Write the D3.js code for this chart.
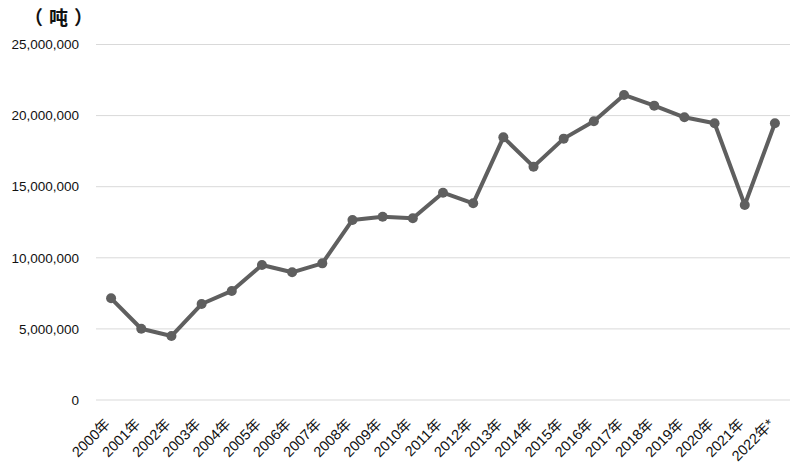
<!DOCTYPE html>
<html><head><meta charset="utf-8">
<script src="https://cdn.jsdelivr.net/npm/d3@7"></script>
<style>body{margin:0;background:#fff}svg{display:block}</style>
</head><body><div id="chart"></div>
<script>
const years = ["2000年","2001年","2002年","2003年","2004年","2005年","2006年","2007年","2008年","2009年","2010年","2011年","2012年","2013年","2014年","2015年","2016年","2017年","2018年","2019年","2020年","2021年","2022年*"];
const tonnes = [7150000,5010000,4500000,6750000,7670000,9490000,8980000,9610000,12660000,12890000,12780000,14580000,13830000,18470000,16410000,18380000,19600000,21450000,20700000,19880000,19460000,13710000,19460000];
const yTicks = [0,5000000,10000000,15000000,20000000,25000000];
const unitLabel = "（吨）";

const W = 797, H = 468;
const m = {left:96, right:7, top:44.5, bottom:68};
const svg = d3.select("#chart").append("svg").attr("width",W).attr("height",H);
const x = d3.scaleBand().domain(years).range([m.left, W-m.right]);
const y = d3.scaleLinear().domain([0,25000000]).range([H-m.bottom, m.top]);
const fmt = d3.format(",");

svg.append("g").selectAll("line").data(yTicks).join("line")
  .attr("x1",m.left).attr("x2",W-m.right)
  .attr("y1",d=>y(d)).attr("y2",d=>y(d))
  .attr("stroke","#d9d9d9").attr("stroke-width",1);

svg.append("g").selectAll("text").data(yTicks).join("text")
  .attr("x",79).attr("y",d=>y(d)).attr("dy","0.35em")
  .attr("text-anchor","end").attr("font-family","Liberation Sans, Arial, sans-serif")
  .attr("font-size",13.5).attr("fill","#111").text(d=>fmt(d));

svg.append("text").attr("x",24).attr("y",18).attr("dy","0.36em")
  .attr("font-family","Noto Sans CJK SC, sans-serif").attr("font-weight","bold")
  .attr("letter-spacing",6).attr("font-size",19).attr("fill","#111").text(unitLabel);

const cx = d => x(d) + x.bandwidth()/2;
svg.append("g").selectAll("text").data(years).join("text")
  .attr("transform",d=>`translate(${cx(d)},${H-m.bottom+25}) rotate(-45)`)
  .attr("text-anchor","end")
  .attr("font-family","Liberation Sans, Noto Sans CJK SC, sans-serif")
  .attr("font-size",14.5).attr("fill","#111").text(d=>d);

const line = d3.line().x((d,i)=>cx(years[i])).y(d=>y(d));
svg.append("path").datum(tonnes).attr("d",line).attr("fill","none")
  .attr("stroke","#5f5f5f").attr("stroke-width",4).attr("stroke-linejoin","round");
svg.append("g").selectAll("circle").data(tonnes).join("circle")
  .attr("cx",(d,i)=>cx(years[i])).attr("cy",d=>y(d)).attr("r",5)
  .attr("fill","#5f5f5f");
</script></body></html>
